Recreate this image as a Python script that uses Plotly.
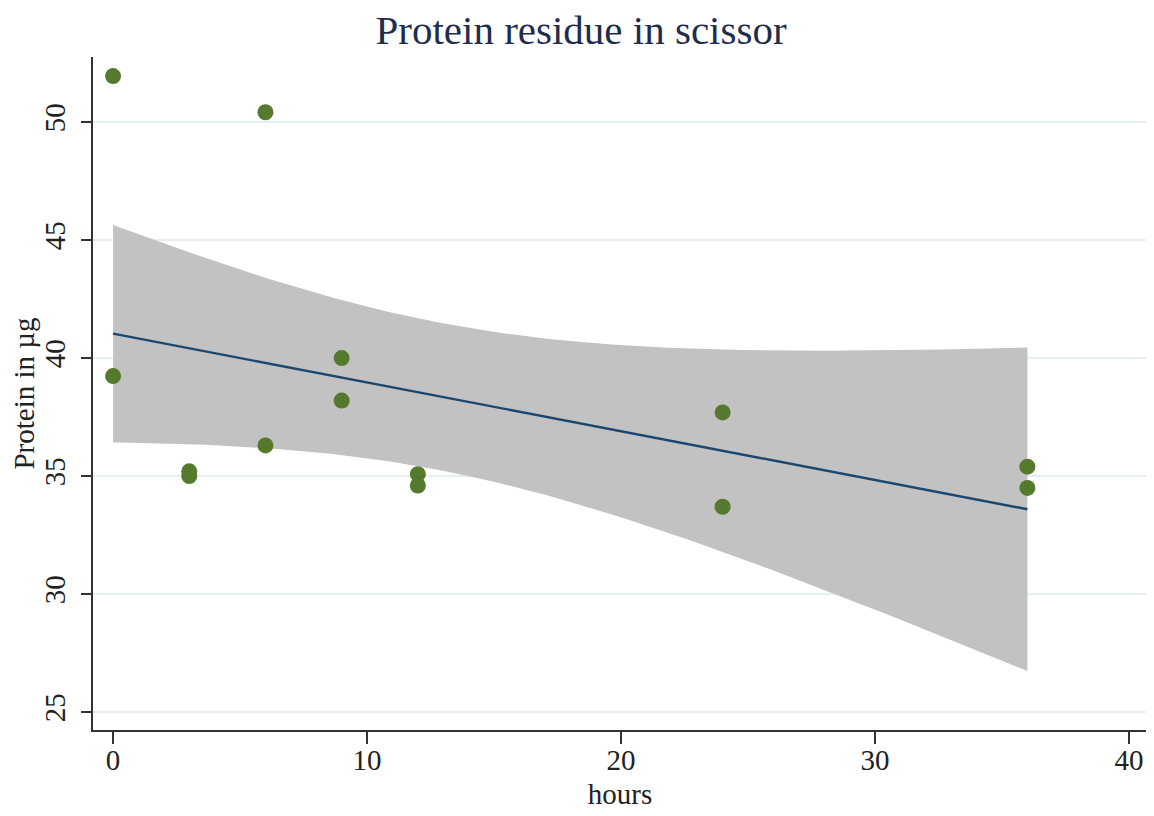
import numpy as np
import plotly.graph_objects as go

hours = [0, 0, 3, 3, 6, 6, 9, 9, 12, 12, 24, 24, 36, 36]
protein = [51.95, 39.24, 35.2, 35.0, 50.42, 36.3, 40.0, 38.2, 35.08, 34.6, 37.7, 33.7, 35.4, 34.5]
x_ticks = [0, 10, 20, 30, 40]
y_ticks = [25, 30, 35, 40, 45, 50]

# linear fit with 95% confidence interval (as Stata lfitci)
x = np.array(hours, dtype=float)
y = np.array(protein, dtype=float)
n = len(x)
xb, yb = x.mean(), y.mean()
sxx = ((x - xb) ** 2).sum()
b = ((x - xb) * (y - yb)).sum() / sxx
a = yb - b * xb
res = y - (a + b * x)
s = np.sqrt((res ** 2).sum() / (n - 2))
t = 2.178813  # t(0.975, df=12)
xg = np.linspace(x.min(), x.max(), 100)
yg = a + b * xg
se = s * np.sqrt(1.0 / n + (xg - xb) ** 2 / sxx)
lo, hi = yg - t * se, yg + t * se

fig = go.Figure()
fig.add_trace(go.Scatter(
    x=np.concatenate([xg, xg[::-1]]), y=np.concatenate([hi, lo[::-1]]),
    fill="toself", fillcolor="#c2c2c2", line=dict(width=0), mode="lines",
    hoverinfo="skip", showlegend=False))
fig.add_trace(go.Scatter(x=xg, y=yg, mode="lines",
                         line=dict(color="#1a476f", width=2.4), showlegend=False))
fig.add_trace(go.Scatter(x=hours, y=protein, mode="markers",
                         marker=dict(color="#55792d", size=16, line=dict(width=0)),
                         showlegend=False))

font = "Liberation Serif, Times New Roman, serif"
txt = "#222222"
fig.update_layout(
    width=1146, height=808,
    margin=dict(l=85, r=7, t=49, b=86),
    paper_bgcolor="white", plot_bgcolor="white",
    font=dict(family=font, color=txt, size=29),
    title=dict(text="Protein residue in scissor", x=0.5, xanchor="center",
               y=0.973, yanchor="middle",
               font=dict(family=font, size=41, color="#1f2d4d")),
    xaxis=dict(range=[-0.79, 40.71], tickvals=x_ticks, showgrid=False, zeroline=False,
               showline=True, linecolor="#333333", linewidth=2,
               ticks="outside", ticklen=12, tickwidth=2, tickcolor="#333333",
               tickfont=dict(size=29, family=font, color=txt),
               ticklabelstandoff=-9,
               automargin=False,
               title=dict(text="hours", font=dict(size=29, family=font, color=txt),
                          standoff=9)),
    yaxis=dict(range=[24.24, 52.76], tickvals=y_ticks, tickangle=-90,
               showgrid=True, gridcolor="#e6eff1", gridwidth=2, zeroline=False,
               showline=True, linecolor="#333333", linewidth=2,
               ticks="outside", ticklen=10, tickwidth=2, tickcolor="#333333",
               tickfont=dict(size=29, family=font, color=txt),
               ticklabelstandoff=4,
               automargin=False,
               title=dict(text="Protein in µg", font=dict(size=29, family=font, color=txt),
                          standoff=1)),
)

fig.write_html("out.html")
